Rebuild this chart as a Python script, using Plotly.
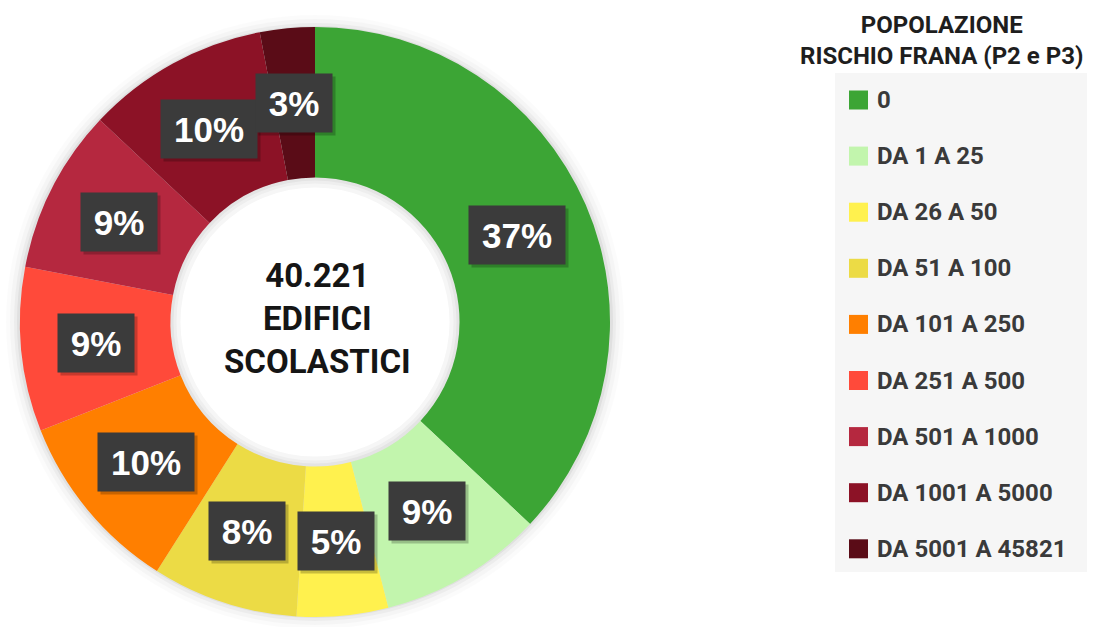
import math
import plotly.graph_objects as go

categories = ["0", "DA 1 A 25", "DA 26 A 50", "DA 51 A 100", "DA 101 A 250",
              "DA 251 A 500", "DA 501 A 1000", "DA 1001 A 5000", "DA 5001 A 45821"]
percent_values = [37, 9, 5, 8, 10, 9, 9, 10, 3]
colors = ["#3ca535", "#c2f5ad", "#fff14e", "#ecdb45", "#ff7f00",
          "#ff4a3a", "#b5283f", "#8c1226", "#5a0c17"]
center_lines = ["40.221", "EDIFICI", "SCOLASTICI"]
legend_title = ["POPOLAZIONE", "RISCHIO FRANA (P2 e P3)"]

W, H = 1101, 627
CX, CY, R = 315, 322, 295
HOLE = 0.49

def px(x):
    return x / W

def py(y):
    return 1 - y / H

fig = go.Figure()
fig.add_trace(go.Pie(
    labels=categories, values=percent_values, sort=False, direction="clockwise",
    rotation=0, hole=HOLE, marker=dict(colors=colors, line=dict(width=0)),
    textinfo="none", hoverinfo="label+percent", showlegend=False,
    domain=dict(x=[px(CX - R), px(CX + R)], y=[py(CY + R), py(CY - R)]),
))

shapes = []
# soft shadow around the ring
for k, a in [(14, 0.015), (10, 0.025), (6, 0.035), (3, 0.05)]:
    shapes.append(dict(type="circle", xref="paper", yref="paper", layer="below",
                       x0=px(CX - R - k), x1=px(CX + R + k),
                       y0=py(CY + R + k - 2), y1=py(CY - R - k + 2),
                       fillcolor=f"rgba(0,0,0,{a})", line=dict(width=0)))
# white hole with a faint inner shadow
rh = R * HOLE
for k, c in [(0, "#e4e4e4"), (3, "#eeeeee"), (6, "#f6f6f6"), (10, "#ffffff")]:
    shapes.append(dict(type="circle", xref="paper", yref="paper", layer="below",
                       x0=px(CX - rh + k), x1=px(CX + rh - k),
                       y0=py(CY + rh - k), y1=py(CY - rh + k),
                       fillcolor=c, line=dict(width=0)))

annotations = []
# percentage boxes, placed at the middle of each slice
total = sum(percent_values)
cum = 0
rl = R * (1 + HOLE) / 2
for v in percent_values:
    mid = (cum + v / 2) / total * 2 * math.pi
    cum += v
    x = CX + rl * math.sin(mid)
    y = CY - rl * math.cos(mid)
    txt = f"{round(v / total * 100)}%"
    bw = 76 if len(txt) == 2 else 96
    bh = 58
    annotations.append(dict(x=px(x + 3), y=py(y + 3), xref="paper", yref="paper",
                            xanchor="center", yanchor="middle",
                            text=" ", showarrow=False, width=bw, height=bh,
                            bgcolor="rgba(0,0,0,0.22)", borderpad=0,
                            font=dict(family="Liberation Sans", size=10)))
    annotations.append(dict(x=px(x), y=py(y), xref="paper", yref="paper",
                            xanchor="center", yanchor="middle", width=bw, height=bh,
                            text=f"<b>{txt}</b>", showarrow=False, bgcolor="#3b3b3b",
                            borderpad=0, font=dict(family="Liberation Sans", size=35,
                                                   color="white")))

# center text
annotations.append(dict(x=px(CX + 2), y=py(CY - 4), xref="paper", yref="paper",
                        xanchor="center", yanchor="middle",
                        text="<br>".join(f"<b>{t}</b>" for t in center_lines),
                        showarrow=False, align="center",
                        font=dict(family="Roboto", size=33, color="#151515")))

# legend
shapes.append(dict(type="rect", xref="paper", yref="paper", layer="below",
                   x0=px(835), x1=px(1087), y0=py(572), y1=py(73),
                   fillcolor="#f6f6f6", line=dict(width=0)))
annotations.append(dict(x=px(941), y=py(40), xref="paper", yref="paper",
                        xanchor="center", yanchor="middle",
                        text="<br>".join(f"<b>{t}</b>" for t in legend_title),
                        showarrow=False, align="center",
                        font=dict(family="Roboto", size=24, color="#1e1e1e")))
for i, (lab, col) in enumerate(zip(categories, colors)):
    yc = 100 + i * 56.1
    shapes.append(dict(type="rect", xref="paper", yref="paper",
                       x0=px(849), x1=px(868), y0=py(yc + 9.5), y1=py(yc - 9.5),
                       fillcolor=col, line=dict(width=0)))
    annotations.append(dict(x=px(875), y=py(yc), xref="paper", yref="paper",
                            xanchor="left", yanchor="middle", text=f"<b>{lab}</b>",
                            showarrow=False,
                            font=dict(family="Roboto", size=24, color="#3a3a3a")))

fig.update_layout(width=W, height=H, margin=dict(l=0, r=0, t=0, b=0),
                  paper_bgcolor="white", plot_bgcolor="white",
                  shapes=shapes, annotations=annotations)
fig.write_html("out.html", config={"displayModeBar": False})

# remove the default page margin so the figure fills the window exactly
with open("out.html", "r", encoding="utf-8") as f:
    html = f.read()
html = html.replace("<head>", "<head><style>html,body{margin:0;padding:0;overflow:hidden}</style>", 1)
with open("out.html", "w", encoding="utf-8") as f:
    f.write(html)
